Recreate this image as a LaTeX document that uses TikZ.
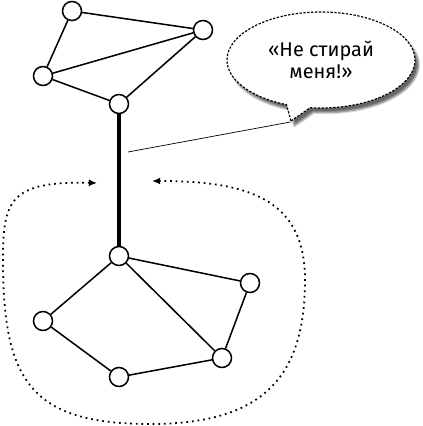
\documentclass[tikz,border=0pt]{standalone}
\usepackage{fontspec}
\newfontfamily\calloutfont{Fira Sans}
\usetikzlibrary{arrows.meta,shapes.callouts,shadows.blur}
\begin{document}
\begin{tikzpicture}[x=0.03cm, y=-0.03cm]
            \useasboundingbox (0,0) rectangle (422,426);
            \tikzstyle{vertex}=[circle, fill=white, draw=black, line width=1.3pt, inner sep=0pt, minimum size=0.57cm]
            \tikzstyle{edge}=[black, line width=1.3pt]
            \tikzstyle{bubble}=[ellipse callout, draw=black, fill=white, line width=1pt, dash pattern=on 2pt off 1.3pt, inner sep=0pt, minimum width=5.64cm, minimum height=2.88cm, align=center, font=\calloutfont\fontsize{17pt}{18.5pt}\selectfont, blur shadow={shadow xshift=3pt, shadow yshift=-4pt, shadow blur steps=6, shadow opacity=60}]
            \tikzstyle{loop}=[black, line width=1.5pt, dash pattern=on 1.5pt off 3.3pt, {Latex[length=7pt,width=6pt]}-{Latex[length=7pt,width=6pt]}]

            \node[vertex] (a) at (72,11) {};
            \node[vertex] (b) at (203,30) {};
            \node[vertex] (c) at (43,76) {};
            \node[vertex] (d) at (119,104) {};
            \node[vertex] (e) at (119,256) {};
            \node[vertex] (f) at (250,283) {};
            \node[vertex] (g) at (43,321) {};
            \node[vertex] (h) at (222,358) {};
            \node[vertex] (i) at (119,377) {};

            \draw[edge] (a) -- (b) -- (c) -- (a);
            \draw[edge] (c) -- (d) -- (b);
            \draw[edge] (e) -- (f) -- (h) -- (e) -- (g) -- (i) -- (h);

            \tikzstyle{edge}=[black, line width=3pt]
            \draw[edge] (d) -- (e);

            \node[bubble, callout absolute pointer={(291,121)}] (msg) at (321,60) {«Не стирай\\меня!»};
            \coordinate (tag) at (128,152);
            \draw[black, line width=0.6pt] (tag) -- (msg.pointer);

            \coordinate (lt) at (97,183);
            \coordinate (rt) at (152,181);
            \draw[loop] (lt) .. controls (10,181) and (3,200) .. (3,260)
                .. controls (3,380) and (30,424) .. (150,424)
                .. controls (260,424) and (305,380) .. (305,280)
                .. controls (305,200) and (250,181) .. (rt);
        \end{tikzpicture}
\end{document}
